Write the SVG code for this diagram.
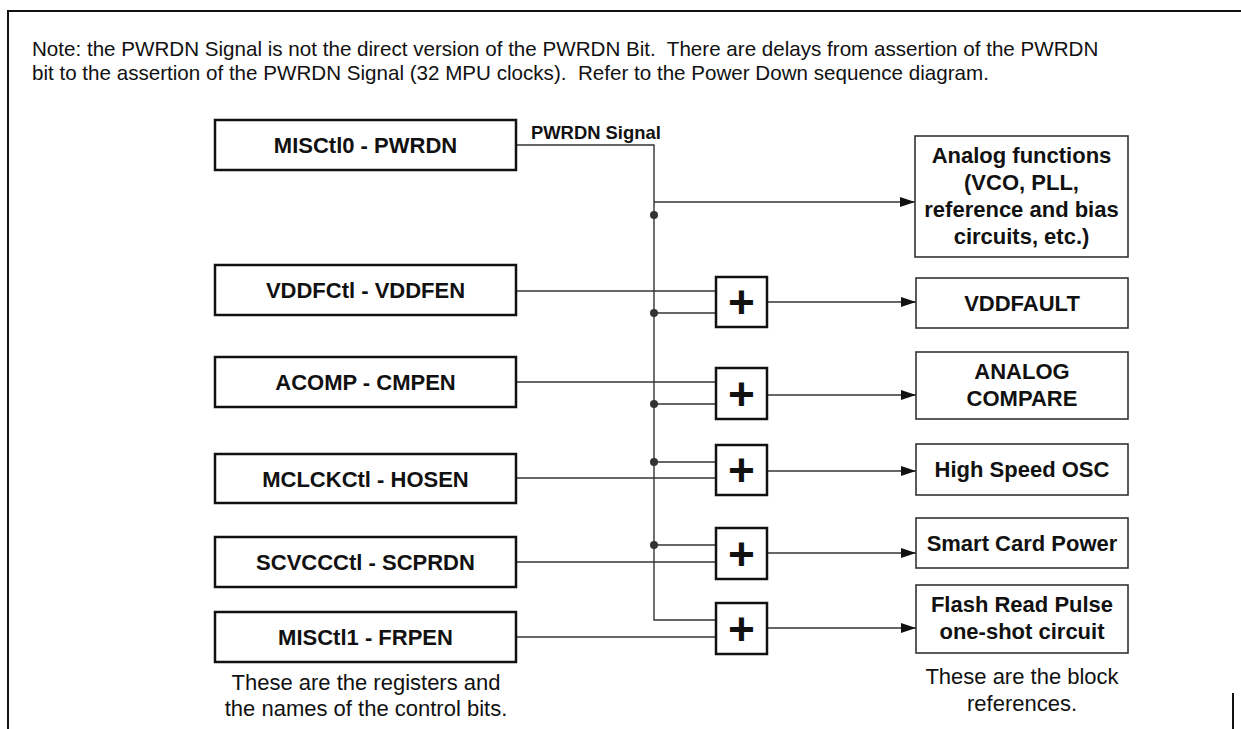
<svg xmlns="http://www.w3.org/2000/svg" width="1241" height="729" viewBox="0 0 1241 729">
<style>
  .frame{stroke:#111;stroke-width:2;fill:none}
  .reg{fill:#fff;stroke:#111;stroke-width:2.5}
  .blk{fill:#fff;stroke:#333;stroke-width:1.6}
  .sum{fill:#fff;stroke:#111;stroke-width:2.5}
  .wire{stroke:#333;stroke-width:1.4;fill:none}
  .dot{fill:#333}
  .lbl{font-family:"Liberation Sans",Arial,sans-serif;font-weight:bold;font-size:22px;fill:#111;text-anchor:middle}
  .plus{font-family:"Liberation Sans",Arial,sans-serif;font-weight:bold;font-size:46px;fill:#111;text-anchor:middle}
  .note{font-family:"Liberation Sans",Arial,sans-serif;font-size:20.6px;fill:#111}
  .cap{font-family:"Liberation Sans",Arial,sans-serif;font-size:22px;fill:#111;text-anchor:middle}
  .sig{font-family:"Liberation Sans",Arial,sans-serif;font-weight:bold;font-size:18.4px;fill:#111}
</style>
<defs>
  <marker id="arr" markerUnits="userSpaceOnUse" markerWidth="16" markerHeight="12" refX="15" refY="5" orient="auto">
    <path d="M0,0 L15,5 L0,10 z" fill="#111"/>
  </marker>
</defs>
<rect width="1241" height="729" fill="#fff"/>
<g id="frame">
  <path class="frame" d="M8,729 V11 H1241"/>
  <path class="frame" d="M1233,693 V729"/>
</g>
<g id="note">
  <text class="note" x="32" y="56" xml:space="preserve">Note: the PWRDN Signal is not the direct version of the PWRDN Bit.  There are delays from assertion of the PWRDN</text>
  <text class="note" x="32" y="80" xml:space="preserve">bit to the assertion of the PWRDN Signal (32 MPU clocks).  Refer to the Power Down sequence diagram.</text>
</g>
<g id="connectors">
  <polyline class="wire" points="516,145 654,145 654,620 716,620"/>
  <line class="wire" x1="654" y1="202" x2="915" y2="202" marker-end="url(#arr)"/>
  <line class="wire" x1="516" y1="291" x2="716" y2="291"/>
  <line class="wire" x1="654" y1="313" x2="716" y2="313"/>
  <line class="wire" x1="767" y1="302" x2="916" y2="302" marker-end="url(#arr)"/>
  <line class="wire" x1="516" y1="382" x2="716" y2="382"/>
  <line class="wire" x1="654" y1="404" x2="716" y2="404"/>
  <line class="wire" x1="767" y1="395" x2="916" y2="395" marker-end="url(#arr)"/>
  <line class="wire" x1="654" y1="462" x2="716" y2="462"/>
  <line class="wire" x1="516" y1="478" x2="716" y2="478"/>
  <line class="wire" x1="767" y1="471" x2="916" y2="471" marker-end="url(#arr)"/>
  <line class="wire" x1="654" y1="545" x2="716" y2="545"/>
  <line class="wire" x1="516" y1="562" x2="716" y2="562"/>
  <line class="wire" x1="767" y1="553" x2="916" y2="553" marker-end="url(#arr)"/>
  <line class="wire" x1="516" y1="637" x2="716" y2="637"/>
  <line class="wire" x1="767" y1="628" x2="916" y2="628" marker-end="url(#arr)"/>
  <circle class="dot" cx="654" cy="215" r="4"/>
  <circle class="dot" cx="654" cy="313" r="4"/>
  <circle class="dot" cx="654" cy="404" r="4"/>
  <circle class="dot" cx="654" cy="462" r="4"/>
  <circle class="dot" cx="654" cy="545" r="4"/>
  <text class="sig" x="531" y="139">PWRDN Signal</text>
</g>
<g id="reg-misctl0"><rect class="reg" x="215" y="120" width="301" height="50"/><text class="lbl" x="365.5" y="153">MISCtl0 - PWRDN</text></g>
<g id="reg-vddfctl"><rect class="reg" x="215" y="265" width="301" height="50"/><text class="lbl" x="365.5" y="298">VDDFCtl - VDDFEN</text></g>
<g id="reg-acomp"><rect class="reg" x="215" y="357" width="301" height="50"/><text class="lbl" x="365.5" y="390">ACOMP - CMPEN</text></g>
<g id="reg-mclkctl"><rect class="reg" x="215" y="454" width="301" height="49"/><text class="lbl" x="365.5" y="487">MCLCKCtl - HOSEN</text></g>
<g id="reg-scvccctl"><rect class="reg" x="215" y="537" width="301" height="50"/><text class="lbl" x="365.5" y="570">SCVCCCtl - SCPRDN</text></g>
<g id="reg-misctl1"><rect class="reg" x="215" y="612" width="301" height="50"/><text class="lbl" x="365.5" y="645">MISCtl1 - FRPEN</text></g>
<g id="cap-left">
  <text class="cap" x="366" y="690">These are the registers and</text>
  <text class="cap" x="366" y="716">the names of the control bits.</text>
</g>
<g id="sum-vddf"><rect class="sum" x="716" y="277" width="51" height="50"/><text class="plus" x="741.5" y="318">+</text></g>
<g id="sum-acomp"><rect class="sum" x="716" y="368" width="51" height="51"/><text class="plus" x="741.5" y="410">+</text></g>
<g id="sum-hosen"><rect class="sum" x="716" y="445" width="51" height="50"/><text class="plus" x="741.5" y="486">+</text></g>
<g id="sum-scprdn"><rect class="sum" x="716" y="528" width="51" height="51"/><text class="plus" x="741.5" y="570">+</text></g>
<g id="sum-frpen"><rect class="sum" x="716" y="603" width="51" height="51"/><text class="plus" x="741.5" y="645">+</text></g>
<g id="blk-analog"><rect class="blk" x="915" y="136" width="213" height="121"/>
  <text class="lbl" x="1021.5" y="163">Analog functions</text>
  <text class="lbl" x="1021.5" y="190">(VCO, PLL,</text>
  <text class="lbl" x="1021.5" y="217">reference and bias</text>
  <text class="lbl" x="1021.5" y="244">circuits, etc.)</text>
</g>
<g id="blk-vddfault"><rect class="blk" x="916" y="278" width="212" height="50"/><text class="lbl" x="1022" y="311">VDDFAULT</text></g>
<g id="blk-acompare"><rect class="blk" x="916" y="352" width="212" height="67"/>
  <text class="lbl" x="1022" y="379">ANALOG</text>
  <text class="lbl" x="1022" y="406">COMPARE</text>
</g>
<g id="blk-hso"><rect class="blk" x="916" y="444" width="212" height="51"/><text class="lbl" x="1022" y="477">High Speed OSC</text></g>
<g id="blk-scp"><rect class="blk" x="916" y="518" width="212" height="50"/><text class="lbl" x="1022" y="551">Smart Card Power</text></g>
<g id="blk-frp"><rect class="blk" x="916" y="585" width="212" height="68"/>
  <text class="lbl" x="1022" y="612">Flash Read Pulse</text>
  <text class="lbl" x="1022" y="639">one-shot circuit</text>
</g>
<g id="cap-right">
  <text class="cap" x="1022" y="684">These are the block</text>
  <text class="cap" x="1022" y="711">references.</text>
</g>
</svg>
